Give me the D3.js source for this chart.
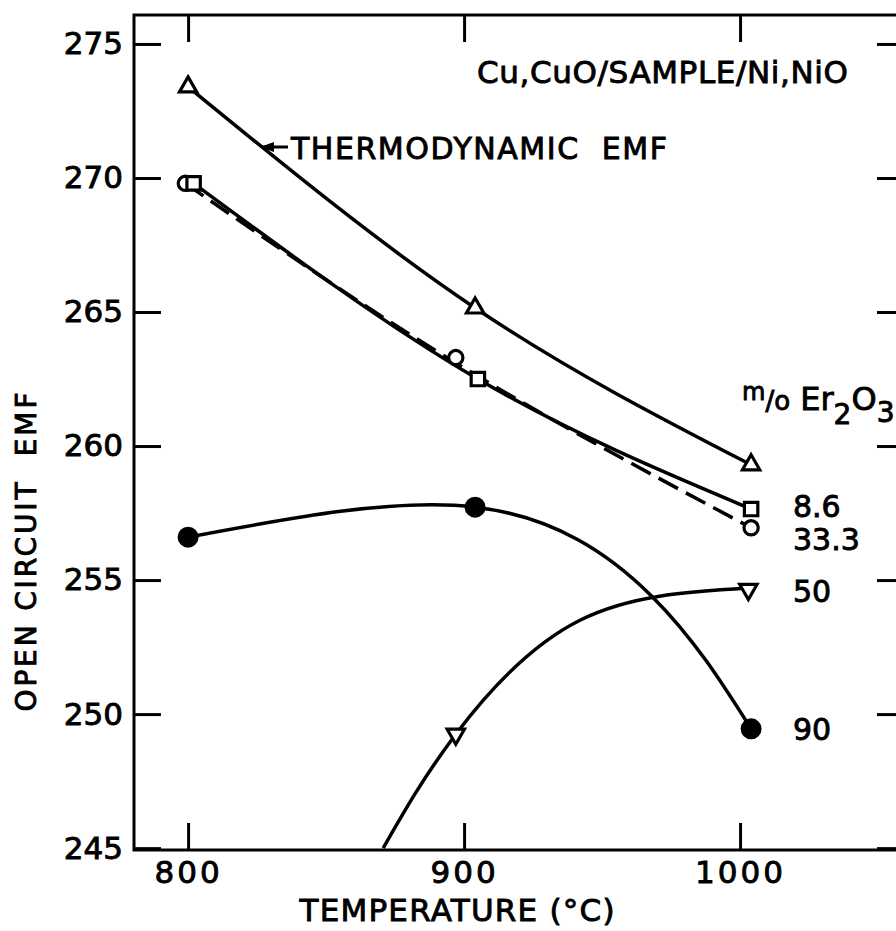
<!DOCTYPE html>
<html>
<head>
<meta charset="utf-8">
<script src="https://cdn.jsdelivr.net/npm/d3@7"></script>
<style>
  html, body { margin: 0; padding: 0; background: #fff; }
  svg { display: block; }
  text { stroke: #000; stroke-width: 0.9px; fill: #000; }
</style>
</head>
<body>
<svg id="chart"></svg>
<script>
// data: [temperature °C, open circuit EMF]
const xTicks = [800, 900, 1000];
const yTicks = [245, 250, 255, 260, 265, 270, 275];

const thermoPts = [[800, 273.4], [904, 265.15], [1004, 259.3]];
const s86Pts = [[802, 269.8], [905, 262.5], [1004, 257.65]];
const s333Pts = [[799, 269.8], [897, 263.3], [1004, 256.95]];
const s50Pts = [[897, 249.25], [1003, 254.65]];
const s90Pts = [[800, 256.6], [904, 257.72], [1004, 249.45]];

// points (they leave the data points)
const s333Curve = [[799, 269.8], [897, 263.1], [1004, 256.95]];
const s50Curve = [[870.7, 245.0], [897, 249.25], [942, 253.5], [1003, 254.7]];
const s90Curve = [[800, 256.6], [904, 257.72], [968, 254.4], [1004, 249.45]];

const seriesLabels = [
  {text: '8.6', y: 517},
  {text: '33.3', y: 550},
  {text: '50', y: 602},
  {text: '90', y: 740}
];

const W = 896, H = 931;
const FONT = 'DejaVu Sans, sans-serif';

const svg = d3.select('#chart')
  .attr('width', W)
  .attr('height', H)
  .attr('font-family', FONT);

// frame edges expressed in data units
const x = d3.scaleLinear().domain([780.4, 1059.4]).range([134, 904]);
const y = d3.scaleLinear().domain([244.93, 276.08]).range([850, 15]);

const TICK = 27;

// axes, ticks pointing inwards
svg.append('g')
  .attr('transform', `translate(${x.range()[0]},0)`)
  .call(d3.axisLeft(y).tickValues(yTicks).tickSizeInner(-TICK).tickSizeOuter(0).tickPadding(11))
  .call(g => g.select('.domain').remove())
  .call(g => g.selectAll('text').attr('font-size', 31).attr('font-family', FONT));

svg.append('g')
  .attr('transform', `translate(0,${y.range()[0]})`)
  .call(d3.axisBottom(x).tickValues(xTicks).tickFormat(d3.format('d'))
    .tickSizeInner(-TICK).tickSizeOuter(0).tickPadding(11))
  .call(g => g.select('.domain').remove())
  .call(g => g.selectAll('text').attr('font-size', 31).attr('font-family', FONT)
    .attr('letter-spacing', 3));

svg.append('g')
  .attr('transform', `translate(0,${y.range()[1]})`)
  .call(d3.axisTop(x).tickValues(xTicks).tickSizeInner(-TICK).tickSizeOuter(0).tickFormat(''))
  .call(g => g.select('.domain').remove());

svg.append('g')
  .attr('transform', `translate(${x.range()[1]},0)`)
  .call(d3.axisRight(y).tickValues(yTicks).tickSizeInner(-TICK).tickSizeOuter(0).tickFormat(''))
  .call(g => g.select('.domain').remove());

svg.selectAll('.tick line').attr('stroke', '#000').attr('stroke-width', 3);

// frame
svg.append('rect')
  .attr('x', x.range()[0])
  .attr('y', y.range()[1])
  .attr('width', x.range()[1] - x.range()[0])
  .attr('height', y.range()[0] - y.range()[1])
  .attr('fill', 'none')
  .attr('stroke', '#000')
  .attr('stroke-width', 3);

svg.append('clipPath').attr('id', 'plot')
  .append('rect')
  .attr('x', x.range()[0])
  .attr('y', y.range()[1])
  .attr('width', x.range()[1] - x.range()[0])
  .attr('height', y.range()[0] - y.range()[1]);

const plot = svg.append('g').attr('clip-path', 'url(#plot)');

const line = d3.line()
  .x(d => x(d[0]))
  .y(d => y(d[1]))
  .curve(d3.curveNatural);

const drawLine = (data, dash) => plot.append('path')
  .datum(data)
  .attr('d', line)
  .attr('fill', 'none')
  .attr('stroke', '#000')
  .attr('stroke-width', 3.5)
  .attr('stroke-dasharray', dash || null);

drawLine(thermoPts);
drawLine(s333Curve, '22,9');
drawLine(s86Pts);
drawLine(s50Curve);
drawLine(s90Curve);

// markers
const marker = (data, type, size, filled, rot) => svg.append('g')
  .selectAll('path')
  .data(data)
  .join('path')
  .attr('transform', d => `translate(${x(d[0])},${y(d[1])}) rotate(${rot || 0})`)
  .attr('d', d3.symbol().type(type).size(size))
  .attr('fill', filled ? '#000' : '#fff')
  .attr('stroke', '#000')
  .attr('stroke-width', 3.2);

marker(thermoPts, d3.symbolTriangle, 130, false);
marker(s333Pts, d3.symbolCircle, 160, false);
marker(s86Pts, d3.symbolSquare, 180, false);
marker(s50Pts, d3.symbolTriangle, 130, false, 180);
marker(s90Pts, d3.symbolCircle, 250, true);

// annotation texts
svg.append('text')
  .attr('x', 477).attr('y', 83)
  .attr('font-size', 31)
  .attr('textLength', 371)
  .attr('lengthAdjust', 'spacing')
  .text('Cu,CuO/SAMPLE/Ni,NiO');

svg.append('text')
  .attr('x', 291).attr('y', 159)
  .attr('font-size', 30)
  .attr('textLength', 376)
  .attr('lengthAdjust', 'spacing')
  .style('white-space', 'pre')
  .text('THERMODYNAMIC  EMF');

// arrow pointing at the thermodynamic curve
svg.append('line')
  .attr('x1', 288).attr('y1', 147).attr('x2', 262).attr('y2', 147)
  .attr('stroke', '#000').attr('stroke-width', 3);
svg.append('path')
  .attr('d', 'M260,147 L274,142 L274,152 Z')
  .attr('fill', '#000');

// m/o Er2O3 heading
const head = svg.append('text')
  .attr('x', 742).attr('y', 410)
  .attr('font-size', 32);
head.append('tspan').attr('font-size', 24).attr('dy', -10).text('m');
head.append('tspan').attr('font-size', 26).attr('dy', 10).text('/o');
head.append('tspan').text('\u00a0Er');
head.append('tspan').attr('font-size', 28).attr('dy', 14).text('2');
head.append('tspan').attr('dy', -14).text('O');
head.append('tspan').attr('font-size', 28).attr('dy', 12).text('3');

svg.append('g')
  .selectAll('text')
  .data(seriesLabels)
  .join('text')
  .attr('x', 793)
  .attr('y', d => d.y)
  .attr('font-size', 30)
  .text(d => d.text);

// axis titles
svg.append('text')
  .attr('x', 457).attr('y', 921)
  .attr('text-anchor', 'middle')
  .attr('font-size', 31)
  .attr('textLength', 315)
  .attr('lengthAdjust', 'spacing')
  .text('TEMPERATURE (°C)');

svg.append('text')
  .attr('transform', 'translate(36,552) rotate(-90)')
  .attr('text-anchor', 'middle')
  .attr('font-size', 28)
  .attr('textLength', 319)
  .attr('lengthAdjust', 'spacing')
  .style('white-space', 'pre')
  .text('OPEN CIRCUIT  EMF');
</script>
</body>
</html>
